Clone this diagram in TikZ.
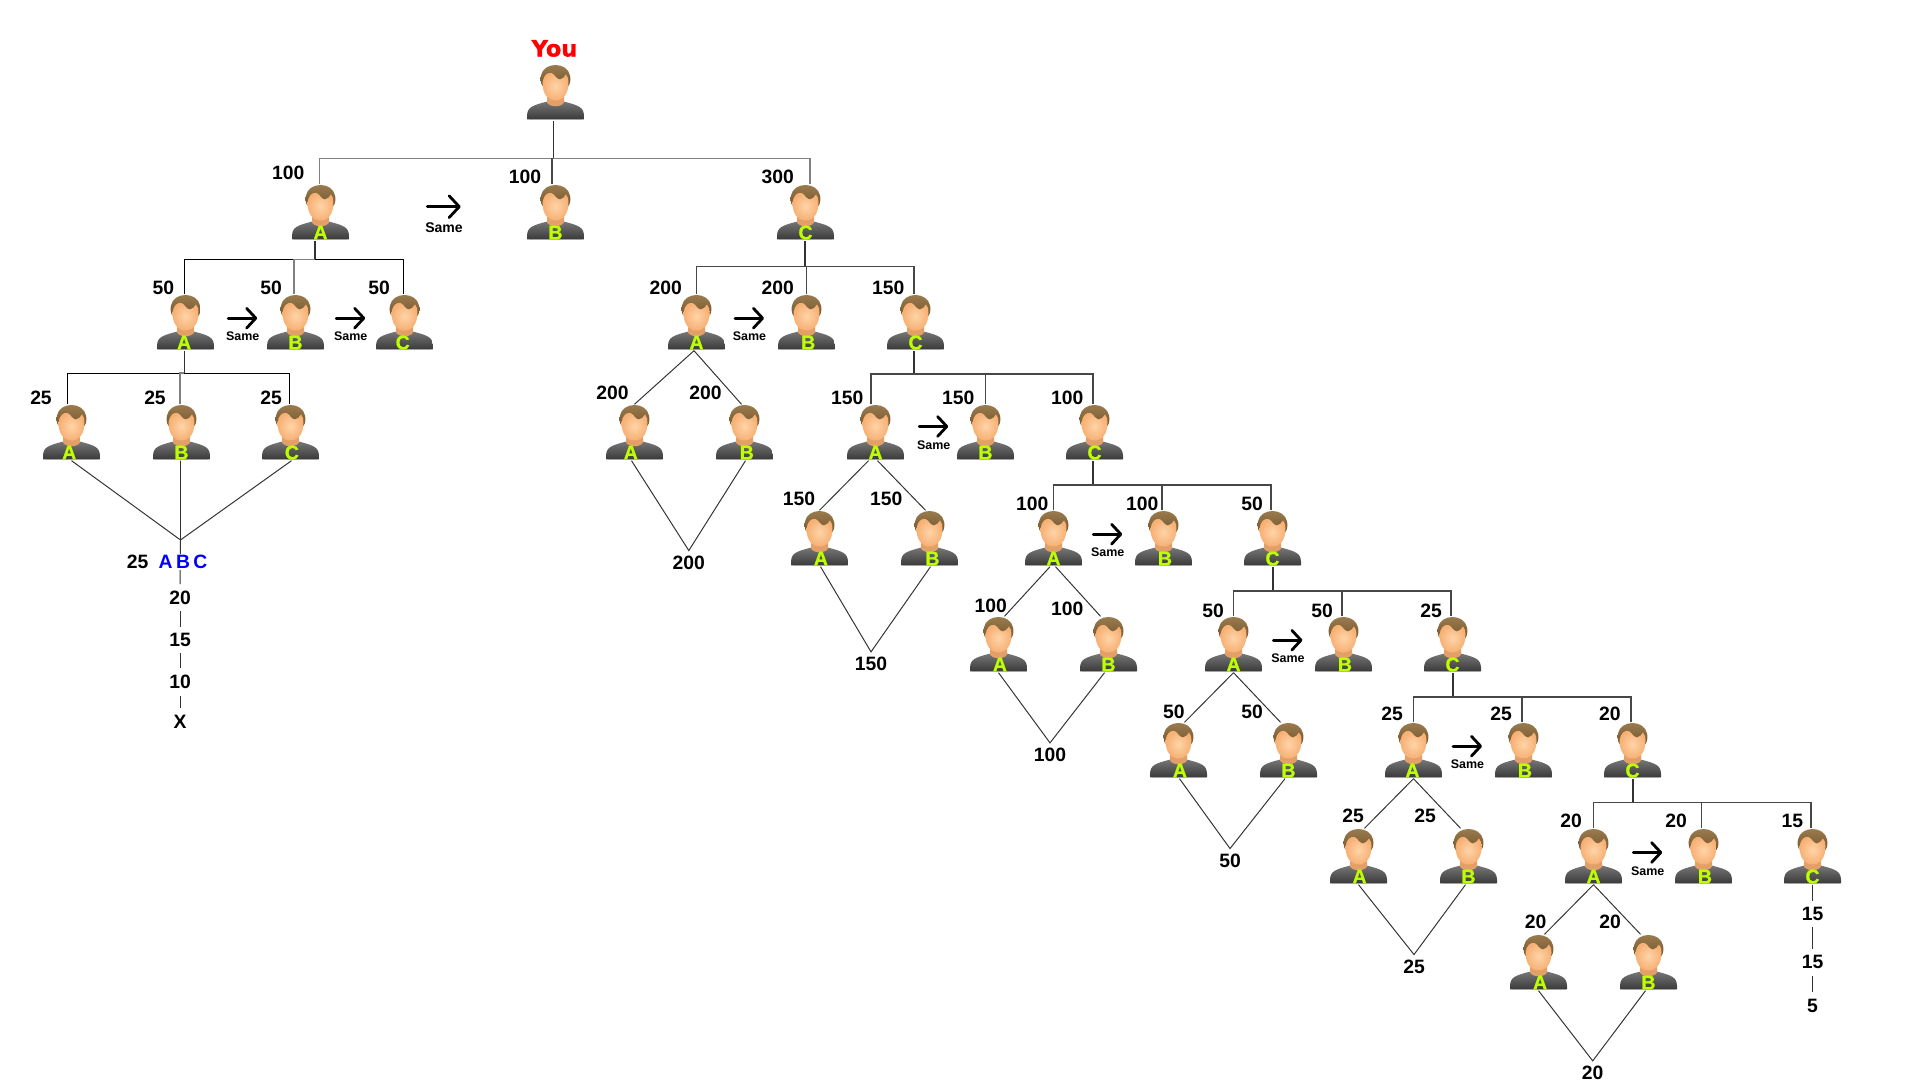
\documentclass[tikz,border=0pt]{standalone}
\usepackage{fontspec}
\setmainfont{Liberation Sans}
\newfontfamily\heavyfont[FakeBold=1.2]{DejaVu Sans Bold}
\newfontfamily\tagtype[FakeBold=0.6]{Liberation Sans Bold}
\usetikzlibrary{arrows.meta, calc}
\definecolor{tagcol}{RGB}{190, 255, 0}
\definecolor{hairtop}{RGB}{160, 128, 82}
\definecolor{hairlow}{RGB}{118, 88, 48}
\definecolor{skinin}{RGB}{255, 212, 168}
\definecolor{skinout}{RGB}{246, 176, 116}
\definecolor{neckcol}{RGB}{226, 160, 104}
\definecolor{bodytop}{RGB}{118, 118, 118}
\definecolor{bodylow}{RGB}{58, 58, 58}
\tikzset{
  person/.style={minimum width=0.58cm, minimum height=0.55cm, inner sep=0pt,
    path picture={
      \begin{scope}[x=0.01cm, y=0.01cm]
        \fill[black!14] (-27,-27.5) rectangle (27,-26.5);
        \shade[top color=bodytop, bottom color=bodylow] (-28.5,-26.8) -- (-28.5,-23) .. controls (-28,-15) and (-24,-13) .. (-8,-9) -- (8,-9) .. controls (24,-13) and (28,-15) .. (28.5,-23) -- (28.5,-26.8) -- cycle;
        \fill[neckcol] (-8.5,-3) -- (-8.5,-10) .. controls (-6,-15) and (6,-15) .. (8.5,-10) -- (8.5,-3) -- cycle;
        \shade[top color=hairtop, bottom color=hairlow] (-13,6.5) .. controls (-15.5,10) and (-15,15) .. (-14.5,17) .. controls (-12,31) and (12,31) .. (14.5,17) .. controls (15,15) and (15.5,10) .. (13,6.5) -- cycle;
        \shade[inner color=skinin, outer color=skinout] (-13,10) .. controls (-12,17) and (-8,20.5) .. (-4,19.5) .. controls (-1,18.5) and (1,13) .. (4.5,13) .. controls (7,13) and (9,16) .. (10.5,18) .. controls (12.5,16) and (13,13) .. (13,10) .. controls (13,-1) and (8,-8) .. (0,-8) .. controls (-8,-8) and (-13,-1) .. (-13,10) -- cycle;
      \end{scope}
    }},
  tagfont/.style={inner sep=0pt, text=tagcol, text height=3.9pt, text depth=0pt, yshift=-0.2cm, font=\fontsize{5.6}{6}\selectfont\tagtype},
  tag/.style={label={[tagfont]center:#1}},
  tagat/.style 2 args={label={[tagfont, xshift=#2]center:#1}},
  num/.style={inner sep=0pt, font=\fontsize{5.5}{6}\selectfont\bfseries},
  chainnum/.style={inner sep=1.7pt, font=\fontsize{5.5}{6}\selectfont\bfseries},
  sumnum/.style={inner sep=1.3pt, font=\fontsize{5.5}{6}\selectfont\bfseries},
  same/.style={inner sep=0pt, font=\fontsize{3.55}{4}\selectfont\bfseries},
  bigsame/.style={inner sep=0pt, font=\fontsize{4}{5}\selectfont\bfseries},
  samearr/.style={line width=0.8pt, line cap=round, -{Straight Barb[length=2.6pt,width=5.6pt,round,line width=0.8pt]}},
  bigsamearr/.style={line width=0.8pt, line cap=round, -{Straight Barb[length=2.9pt,width=6.2pt,round,line width=0.8pt]}},
  bar/.style={draw=black!72, line width=0.42pt},
  barblack/.style={draw=black, line width=0.3pt},
  bargray/.style={draw=black!50, line width=0.42pt},
  stem/.style={draw=black!80, line width=0.42pt},
  leg/.style={draw=black!80, line width=0.28pt}
}
\newcommand{\samearrow}[1]{\draw[samearr] ([shift={(-0.145,0.185)}]#1.center) -- ([shift={(0.145,0.185)}]#1.center);}
\newcommand{\bigsamearrow}[1]{\draw[bigsamearr] ([shift={(-0.167,0.213)}]#1.center) -- ([shift={(0.167,0.213)}]#1.center);}
\begin{document}
\begin{tikzpicture}
  \useasboundingbox (0,0) rectangle (19.2,10.8);

  % Top
  \node[font=\fontsize{6.4}{7}\selectfont\heavyfont, text=red, inner sep=0pt] (youlbl) at (5.545, 10.315) {You};
  \node[person] (you) at (5.555, 9.875) {};

  \node[person, tag=A] (a) at (3.205, 8.675) {};
  \node[person, tag=B] (b) at (5.555, 8.675) {};
  \node[person, tag=C] (c) at (8.055, 8.675) {};
  \node[num] (na) at (2.883, 9.073) {100};
  \node[num] (nb) at (5.25, 9.027) {100};
  \node[num] (nc) at (7.777, 9.027) {300};
  \node[bigsame] (s0) at (4.44, 8.52) {Same};
  \bigsamearrow{s0}
  \coordinate (bar0) at (5.533, 9.215);
  \draw[stem] (you.south -| bar0) -- (bar0);
  \draw[bargray] ([xshift=-0.01cm]a.north) |- (bar0) -| ([xshift=0.045cm]c.north);
  \draw[bar] ([xshift=-0.035cm]b.north) |- (bar0);

  % Left branch
  \node[person, tagat={A}{-0.4pt}] (aa) at (1.855, 7.575) {};
  \node[person, tag=B] (ab) at (2.955, 7.575) {};
  \node[person, tagat={C}{-0.5pt}] (ac) at (4.045, 7.575) {};
  \node[num] (naa) at (1.633, 7.923) {50};
  \node[num] (nab) at (2.71, 7.923) {50};
  \node[num] (nac) at (3.79, 7.923) {50};
  \node[same] (s1) at (2.427, 7.433) {Same};
  \node[same] (s2) at (3.507, 7.433) {Same};
  \samearrow{s1}
  \samearrow{s2}
  \coordinate (bar1) at (3.15, 8.207);
  \draw[stem] (a.south -| bar1) -- (bar1);
  \draw[barblack] ([xshift=-0.012cm]aa.north) |- (bar1) -| ([xshift=-0.012cm]ac.north);
  \draw[bargray] ([xshift=-0.015cm]ab.north) |- (bar1);

  \node[person, tagat={A}{-0.65pt}] (aaa) at (0.715, 6.475) {};
  \node[person, tag=B] (aab) at (1.815, 6.475) {};
  \node[person, tagat={C}{0.4pt}] (aac) at (2.905, 6.475) {};
  \node[num] (naaa) at (0.41, 6.823) {25};
  \node[num] (naab) at (1.55, 6.823) {25};
  \node[num] (naac) at (2.71, 6.823) {25};
  \coordinate (bar2) at (1.843, 7.067);
  \draw[stem] (aa.south -| bar2) -- (bar2);
  \draw[barblack] ([xshift=-0.042cm]aaa.north) |- (bar2) -| ([xshift=-0.012cm]aac.north);
  \draw[bargray, line width=0.5pt] ([xshift=-0.015cm]aab.north) |- (bar2);

  % Left branch, end of the line
  \node[num] (n25) at (1.377, 5.18) {25};
  \node[chainnum] (n20) at (1.8, 4.823) {20};
  \node[chainnum] (n15) at (1.8, 4.4) {15};
  \node[chainnum] (n10) at (1.8, 3.98) {10};
  \node[chainnum] (nx) at (1.8, 3.583) {X};
  \coordinate (abcpt) at (1.805, 5.4);
  \draw[leg] (aaa.south) -- (abcpt) -- ([xshift=0.01cm]aac.south);
  \draw[leg] ([xshift=-0.01cm]aab.south) -- (abcpt) -- (n20);
  \draw[leg] (n20) -- (n15);
  \draw[leg] (n15) -- (n10);
  \draw[leg] (n10) -- (nx);
  \node[font=\fontsize{5.5}{6}\selectfont\bfseries, text=blue, fill=white, inner sep=0.3pt] (abc) at (1.83, 5.18) {\spaceskip=1pt\relax A B C};

  % Branch C
  \node[person, tag=A] (l2a) at (6.965, 7.575) {};
  \node[person, tagat={B}{0.5pt}] (l2b) at (8.065, 7.575) {};
  \node[person, tag=C] (l2c) at (9.155, 7.575) {};
  \node[num] (n2a) at (6.658, 7.923) {200};
  \node[num] (n2b) at (7.777, 7.923) {200};
  \node[num] (n2c) at (8.882, 7.923) {150};
  \node[same] (s3) at (7.495, 7.433) {Same};
  \samearrow{s3}
  \coordinate (bar3) at (8.05, 8.133);
  \draw[stem] (c.south -| bar3) -- (bar3);
  \draw[bar] (l2a.north) |- (bar3) -| ([xshift=-0.015cm]l2c.north);
  \draw[bar] (l2b.north) |- (bar3);
  \node[person, tagat={A}{-1.05pt}] (l2x) at (6.345, 6.475) {};
  \node[person, tagat={B}{0.65pt}] (l2y) at (7.445, 6.475) {};
  \node[num] (n2x) at (6.124, 6.873) {200};
  \node[num] (n2y) at (7.054, 6.873) {200};
  \node[sumnum] (t2) at (6.888, 5.173) {200};
  \draw[leg] ([xshift=-0.025cm]l2a.south) -- (l2x.north);
  \draw[leg] ([xshift=-0.025cm]l2a.south) -- ([xshift=-0.03cm]l2y.north);
  \draw[leg] ([xshift=-0.03cm]l2x.south) -- (t2.north) -- ([xshift=0.01cm]l2y.south);

  % Next level
  \node[person, tag=A] (l3a) at (8.755, 6.475) {};
  \node[person, tag=B] (l3b) at (9.855, 6.475) {};
  \node[person, tag=C] (l3c) at (10.945, 6.475) {};
  \node[num] (n3a) at (8.473, 6.823) {150};
  \node[num] (n3b) at (9.582, 6.823) {150};
  \node[num] (n3c) at (10.673, 6.823) {100};
  \node[same] (s4) at (9.337, 6.35) {Same};
  \samearrow{s4}
  \coordinate (bar4) at (9.14, 7.06);
  \draw[stem] (l2c.south -| bar4) -- (bar4);
  \draw[bar] ([xshift=-0.045cm]l3a.north) |- (bar4) -| ([xshift=-0.015cm]l3c.north);
  \draw[bar] (l3b.north) |- (bar4);
  \node[person, tagat={A}{0.4pt}] (l3x) at (8.195, 5.415) {};
  \node[person, tagat={B}{0.85pt}] (l3y) at (9.295, 5.415) {};
  \node[num] (n3x) at (7.99, 5.813) {150};
  \node[num] (n3y) at (8.862, 5.813) {150};
  \node[sumnum] (t3) at (8.71, 4.16) {150};
  \draw[leg] ([xshift=-0.07cm]l3a.south) -- (l3x.north);
  \draw[leg] ([xshift=0.02cm]l3a.south) -- ([xshift=-0.04cm]l3y.north);
  \draw[leg] ([xshift=0.01cm]l3x.south) -- (t3.north) -- ([xshift=0.01cm]l3y.south);

  % Next level
  \node[person, tag=A] (l4a) at (10.535, 5.415) {};
  \node[person, tagat={B}{0.4pt}] (l4b) at (11.635, 5.415) {};
  \node[person, tag=C] (l4c) at (12.725, 5.415) {};
  \node[num] (n4a) at (10.323, 5.763) {100};
  \node[num] (n4b) at (11.422, 5.763) {100};
  \node[num] (n4c) at (12.52, 5.763) {50};
  \node[same] (s5) at (11.077, 5.273) {Same};
  \samearrow{s5}
  \coordinate (bar5) at (10.93, 5.95);
  \draw[stem] (l3c.south -| bar5) -- (bar5);
  \draw[bar] (l4a.north) |- (bar5) -| ([xshift=-0.015cm]l4c.north);
  \draw[bar] ([xshift=-0.015cm]l4b.north) |- (bar5);
  \node[person, tagat={A}{0.4pt}] (l4x) at (9.985, 4.355) {};
  \node[person, tag=B] (l4y) at (11.085, 4.355) {};
  \node[num] (n4x) at (9.908, 4.74) {100};
  \node[num] (n4y) at (10.672, 4.713) {100};
  \node[sumnum] (t4) at (10.5, 3.25) {100};
  \draw[leg] ([xshift=-0.035cm]l4a.south) -- ([xshift=0.06cm]l4x.north);
  \draw[leg] ([xshift=0.02cm]l4a.south) -- ([xshift=-0.08cm]l4y.north);
  \draw[leg] (l4x.south) -- (t4.north) -- ([xshift=-0.04cm]l4y.south);

  % Next level
  \node[person, tag=A] (l5a) at (12.335, 4.355) {};
  \node[person, tagat={B}{0.4pt}] (l5b) at (13.435, 4.355) {};
  \node[person, tag=C] (l5c) at (14.525, 4.355) {};
  \node[num] (n5a) at (12.131, 4.693) {50};
  \node[num] (n5b) at (13.22, 4.693) {50};
  \node[num] (n5c) at (14.311, 4.693) {25};
  \node[same] (s6) at (12.879, 4.213) {Same};
  \samearrow{s6}
  \coordinate (bar6) at (12.73, 4.89);
  \draw[stem] (l4c.south -| bar6) -- (bar6);
  \draw[bar] (l5a.north) |- (bar6) -| ([xshift=-0.015cm]l5c.north);
  \draw[bar] ([xshift=-0.015cm]l5b.north) |- (bar6);
  \node[person, tagat={A}{0.4pt}] (l5x) at (11.785, 3.295) {};
  \node[person, tag=B] (l5y) at (12.885, 3.295) {};
  \node[num] (n5x) at (11.739, 3.683) {50};
  \node[num] (n5y) at (12.52, 3.683) {50};
  \node[sumnum] (t5) at (12.3, 2.193) {50};
  \draw[leg] (l5a.south) -- ([xshift=0.06cm]l5x.north);
  \draw[leg] (l5a.south) -- ([xshift=-0.08cm]l5y.north);
  \draw[leg] ([xshift=0.01cm]l5x.south) -- (t5.north) -- ([xshift=-0.035cm]l5y.south);

  % Next level
  \node[person, tagat={A}{-0.3pt}] (l6a) at (14.135, 3.295) {};
  \node[person, tagat={B}{0.4pt}] (l6b) at (15.235, 3.295) {};
  \node[person, tag=C] (l6c) at (16.325, 3.295) {};
  \node[num] (n6a) at (13.921, 3.663) {25};
  \node[num] (n6b) at (15.01, 3.663) {25};
  \node[num] (n6c) at (16.098, 3.663) {20};
  \node[same] (s7) at (14.675, 3.153) {Same};
  \samearrow{s7}
  \coordinate (bar7) at (14.53, 3.83);
  \draw[stem] (l5c.south -| bar7) -- (bar7);
  \draw[bar] (l6a.north) |- (bar7) -| ([xshift=-0.015cm]l6c.north);
  \draw[bar] ([xshift=-0.015cm]l6b.north) |- (bar7);
  \node[person, tagat={A}{0.3pt}] (l6x) at (13.585, 2.235) {};
  \node[person, tag=B] (l6y) at (14.685, 2.235) {};
  \node[num] (n6x) at (13.53, 2.64) {25};
  \node[num] (n6y) at (14.25, 2.64) {25};
  \node[sumnum] (t6) at (14.14, 1.133) {25};
  \draw[leg] (l6a.south) -- ([xshift=0.06cm]l6x.north);
  \draw[leg] (l6a.south) -- ([xshift=-0.08cm]l6y.north);
  \draw[leg] (l6x.south) -- (t6.north) -- ([xshift=-0.03cm]l6y.south);

  % Last level
  \node[person, tag=A] (l7a) at (15.935, 2.235) {};
  \node[person, tagat={B}{0.4pt}] (l7b) at (17.035, 2.235) {};
  \node[person, tag=C] (l7c) at (18.125, 2.235) {};
  \node[num] (n7a) at (15.71, 2.593) {20};
  \node[num] (n7b) at (16.76, 2.593) {20};
  \node[num] (n7c) at (17.923, 2.593) {15};
  \node[same] (s8) at (16.477, 2.09) {Same};
  \samearrow{s8}
  \coordinate (bar8) at (16.33, 2.773);
  \draw[stem] (l6c.south -| bar8) -- (bar8);
  \draw[bar] (l7a.north) |- (bar8) -| ([xshift=-0.015cm]l7c.north);
  \draw[bar] ([xshift=-0.018cm]l7b.north) |- (bar8);
  \node[person, tagat={A}{0.45pt}] (l7x) at (15.385, 1.175) {};
  \node[person, tag=B] (l7y) at (16.485, 1.175) {};
  \node[num] (n7x) at (15.357, 1.577) {20};
  \node[num] (n7y) at (16.1, 1.577) {20};
  \node[sumnum] (t7) at (15.927, 0.07) {20};
  \draw[leg] (l7a.south) -- ([xshift=0.06cm]l7x.north);
  \draw[leg] (l7a.south) -- ([xshift=-0.08cm]l7y.north);
  \draw[leg] (l7x.south) -- (t7.north) -- ([xshift=-0.03cm]l7y.south);

  % Right end
  \node[chainnum] (r15a) at (18.125, 1.66) {15};
  \node[chainnum] (r15b) at (18.125, 1.177) {15};
  \node[chainnum] (r5) at (18.125, 0.743) {5};
  \draw[stem] (l7c) -- (r15a);
  \draw[stem] (r15a) -- (r15b);
  \draw[stem] (r15b) -- (r5);
\end{tikzpicture}
\end{document}
